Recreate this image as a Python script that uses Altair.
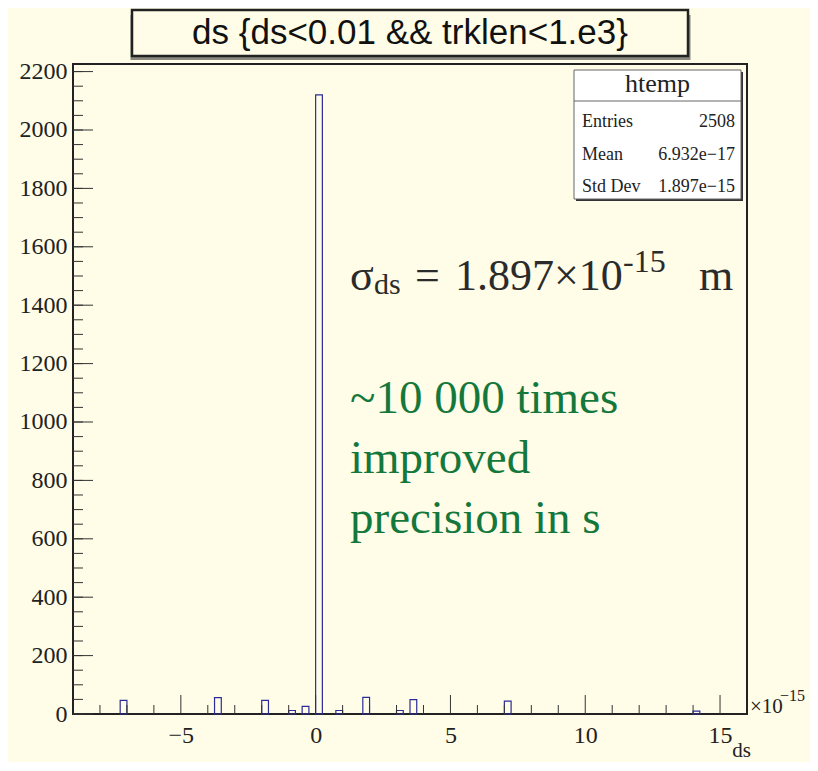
import altair as alt
import pandas as pd

# ---------------- data (ds in units of 1e-15) ----------------
bin_left = [-7.25, -3.75, -2.0, -1.0, -0.5, 0.0, 0.75, 1.75, 3.0, 3.5, 7.0, 14.0]
bin_width = 0.25
counts = [47, 56, 47, 12, 26, 2120, 12, 57, 12, 49, 44, 10]

x_major = [-5, 0, 5, 10, 15]
x_minor = [-8, -7, -6, -4, -3, -2, -1, 1, 2, 3, 4, 6, 7, 8, 9, 11, 12, 13, 14]
y_major = [0, 200, 400, 600, 800, 1000, 1200, 1400, 1600, 1800, 2000, 2200]
y_minor = list(range(0, 2250, 50))

title_text = "ds {ds<0.01 && trklen<1.e3}"
stats_name = "htemp"
stats_labels = ["Entries", "Mean", "Std Dev"]
stats_values = ["2508", "6.932e\u221217", "1.897e\u221215"]
green_lines = ["~10 000 times", "improved", "precision in s"]

# ---------------- layout ----------------
W, H = 674, 650
BG = "#fffde7"
SERIF = "Liberation Serif"
SANS = "Liberation Sans"
xs = alt.Scale(domain=[-9, 16], nice=False, zero=False)
ys = alt.Scale(domain=[0, 2226], nice=False, zero=False)
x_axis = alt.Axis(values=x_major, labelPadding=9, format="d", title=None,
                  grid=False, ticks=False, tickSize=0, domain=False)
y_axis = alt.Axis(values=y_major, labelPadding=6, format="d", title=None,
                  grid=False, ticks=False, tickSize=0, domain=False)

hist = pd.DataFrame({
    "lo": bin_left,
    "hi": [b + bin_width for b in bin_left],
    "count": counts,
})

bars = alt.Chart(hist).mark_rect(
    fillOpacity=0, stroke="#2c2c96", strokeWidth=1.2
).encode(
    x=alt.X("lo:Q", scale=xs, axis=x_axis),
    x2="hi:Q",
    y=alt.Y("count:Q", scale=ys, axis=y_axis),
    y2=alt.datum(0),
)


def xticks(vals, length):
    return alt.Chart(pd.DataFrame({"v": vals})).mark_rule(
        color="#333", strokeWidth=1
    ).encode(
        x=alt.X("v:Q", scale=xs, axis=x_axis),
        y=alt.value(H), y2=alt.value(H - length),
    )


def yticks(vals, length):
    return alt.Chart(pd.DataFrame({"w": vals})).mark_rule(
        color="#333", strokeWidth=1
    ).encode(
        y=alt.Y("w:Q", scale=ys, axis=y_axis),
        x=alt.value(0), x2=alt.value(length),
    )


one = pd.DataFrame({"a": [0]})


def box(x0, x1, y0, y1, **kw):
    return alt.Chart(one).mark_rect(**kw).encode(
        x=alt.value(x0), x2=alt.value(x1), y=alt.value(y0), y2=alt.value(y1)
    )


def txt(s, x, y, size, font=SERIF, color="#222", align="left"):
    return alt.Chart(one).mark_text(
        text=s, font=font, fontSize=size, color=color, align=align,
        baseline="alphabetic"
    ).encode(x=alt.value(x), y=alt.value(y))


layers = [bars,
          xticks(x_major, 19), xticks(x_minor, 9),
          yticks(y_major, 20), yticks(y_minor, 10)]

# title pave (plot coords: page - (73, 64))
layers += [
    box(57.5, 617.5, -49, -4, fill="#8a8a80"),
    box(59, 615, -54, -8, fill=BG, stroke="#222", strokeWidth=2.5),
    txt(title_text, 337, -20, 35, font=SANS, color="#111", align="center"),
]

# stats box
layers += [
    box(503, 670, 8, 137, fill="#333"),
    box(501, 668, 6, 135, fill="#ffffff", stroke="#666", strokeWidth=1),
    alt.Chart(one).mark_rule(color="#666", strokeWidth=1).encode(
        x=alt.value(501), x2=alt.value(668), y=alt.value(37)),
    txt(stats_name, 584.5, 28, 26, align="center"),
]
for i, (lab, val) in enumerate(zip(stats_labels, stats_values)):
    yb = 63 + i * 32.5
    layers += [txt(lab, 509, yb, 18), txt(val, 662, yb, 18, align="right")]

# sigma annotation
DARK = "#2b2b2b"
layers += [
    txt("\u03c3", 277, 226, 44, color=DARK),
    txt("ds", 301, 230, 30, color=DARK),
    txt("=", 342, 226, 44, color=DARK),
    txt("1.897\u00d710", 382, 226, 44, color=DARK),
    txt("-15", 550, 208, 32, color=DARK),
    txt("m", 626, 226, 44, color=DARK),
]

# green annotation
GREEN = "#14783c"
for i, line in enumerate(green_lines):
    layers.append(txt(line, 277, 349 + i * 60, 47, color=GREEN))

# axis exponent and axis title
layers += [
    txt("\u00d710", 677, 649, 21),
    txt("\u221215", 707, 637, 16),
    txt("ds", 678, 693, 21, align="right"),
]

chart = alt.layer(*layers).properties(
    width=W, height=H,
    padding={"left": 65, "top": 56, "right": 63, "bottom": 48},
    autosize=alt.AutoSizeParams(type="none"),
    background=BG,
).configure_view(
    stroke="#222", strokeWidth=2, fill=BG
).configure_axis(
    labelFont=SERIF, labelFontSize=24, labelColor="#222",
)

chart.save("out.html", embed_options={"renderer": "svg", "actions": False})
